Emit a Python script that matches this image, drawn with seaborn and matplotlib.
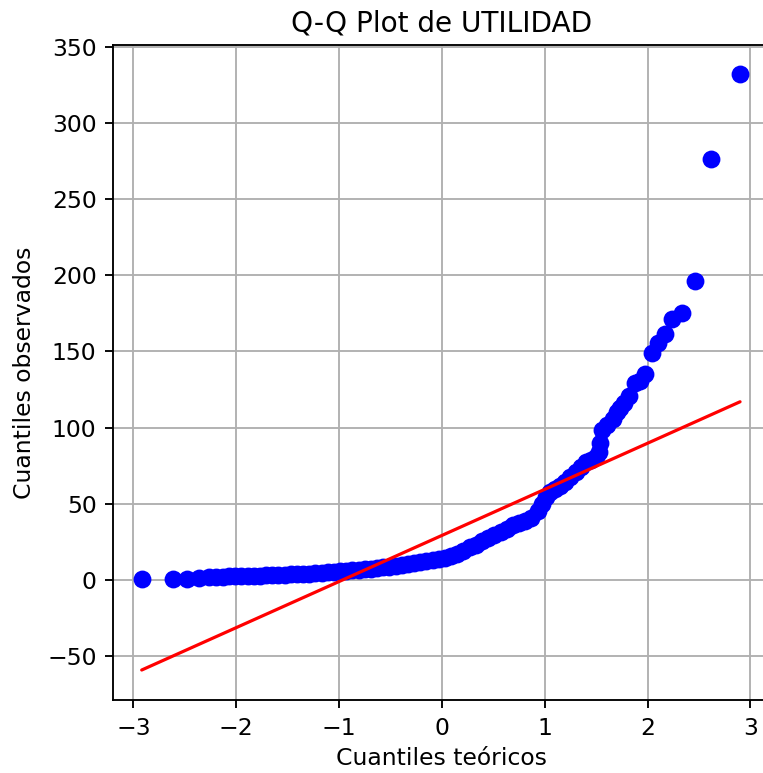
import matplotlib
matplotlib.use("Agg")
import matplotlib.pyplot as plt
import pandas as pd
import seaborn as sns

theoretical = [
    -2.92, -2.62, -2.48, -2.36, -2.27, -2.20, -2.13, -2.07, -2.01, -1.95,
    -1.89, -1.83, -1.77, -1.71, -1.65, -1.59, -1.53, -1.47, -1.41, -1.35,
    -1.29, -1.23, -1.17, -1.11, -1.05, -0.99, -0.93, -0.87, -0.81, -0.75,
    -0.69, -0.63, -0.57, -0.51, -0.45, -0.39, -0.33, -0.27, -0.21, -0.15,
    -0.09, -0.03, 0.03, 0.09, 0.15, 0.21, 0.27, 0.33, 0.39, 0.45,
    0.51, 0.57, 0.63, 0.69, 0.75, 0.81, 0.87, 0.93, 0.97, 1.01,
    1.05, 1.10, 1.15, 1.20, 1.25, 1.30, 1.35, 1.40, 1.45, 1.50,
    1.53, 1.54, 1.56, 1.61, 1.66, 1.70, 1.73, 1.77, 1.82, 1.88,
    1.93, 1.98, 2.04, 2.10, 2.17, 2.24, 2.34, 2.46, 2.62, 2.90,
]
observed = [
    0.5, 0.7, 1.0, 1.5, 1.8, 2.0, 2.3, 2.5, 2.6, 2.7,
    2.8, 2.9, 3.0, 3.1, 3.2, 3.4, 3.5, 3.7, 3.9, 4.1,
    4.3, 4.5, 4.8, 5.1, 5.4, 5.7, 6.0, 6.4, 6.8, 7.2,
    7.6, 8.0, 8.4, 8.9, 9.4, 9.9, 10.4, 11.0, 11.6, 12.2,
    12.9, 13.6, 14.5, 15.6, 17.2, 19.2, 21.4, 23.3, 25.4, 27.3,
    29.4, 31.5, 33.8, 36.0, 37.5, 38.8, 41.0, 45.5, 50.0, 54.5,
    57.5, 59.5, 62.0, 64.5, 67.5, 71.0, 74.5, 77.5, 79.0, 80.5,
    84.0, 90.0, 98.5, 102.0, 105.5, 110.0, 113.0, 116.0, 120.5, 129.0,
    130.5, 135.0, 149.0, 155.5, 161.5, 171.0, 175.0, 196.0, 276.5, 332.0,
]
# Reference (fitted) line end points
line_x = [-2.92, 2.90]
line_y = [-59.0, 117.0]

x_ticks = [-3, -2, -1, 0, 1, 2, 3]
y_ticks = [-50, 0, 50, 100, 150, 200, 250, 300, 350]

sns.set_style("ticks", {"axes.grid": True, "grid.color": "#b0b0b0",
                        "axes.edgecolor": "black", "text.color": "black",
                        "xtick.color": "black", "ytick.color": "black",
                        "axes.labelcolor": "black"})
plt.rcParams["font.family"] = ["DejaVu Sans"]

fig = plt.figure(figsize=(7.63, 7.73), dpi=100)
ax = fig.add_axes([0.148, 0.0938, 0.861, 0.848])
ax.set_axisbelow(True)

df = pd.DataFrame({"teoricos": theoretical, "observados": observed})
sns.scatterplot(data=df, x="teoricos", y="observados", color="blue",
                s=165, linewidth=0, ax=ax, zorder=2)
sns.lineplot(x=line_x, y=line_y, color="red", lw=2.3, ax=ax, zorder=3)

ax.set_xlim(-3.2, 3.19)
ax.set_ylim(-79, 351.1)
ax.set_xticks(x_ticks)
ax.set_yticks(y_ticks)
ax.set_xticklabels([str(t).replace("-", "\u2212") for t in x_ticks])
ax.set_yticklabels([str(t).replace("-", "\u2212") for t in y_ticks])
ax.grid(True, color="#b0b0b0", lw=1.35)

ax.set_title("Q-Q Plot de UTILIDAD", fontsize=20.2, pad=10)
ax.set_xlabel("Cuantiles teóricos", fontsize=16.9, labelpad=5)
ax.set_ylabel("Cuantiles observados", fontsize=16.9, labelpad=8)
ax.tick_params(labelsize=16.9, length=5.9, width=1.35, pad=5.9)
for sp in ax.spines.values():
    sp.set_linewidth(1.35)
    sp.set_color("black")

fig.savefig("out.png", dpi=100)
